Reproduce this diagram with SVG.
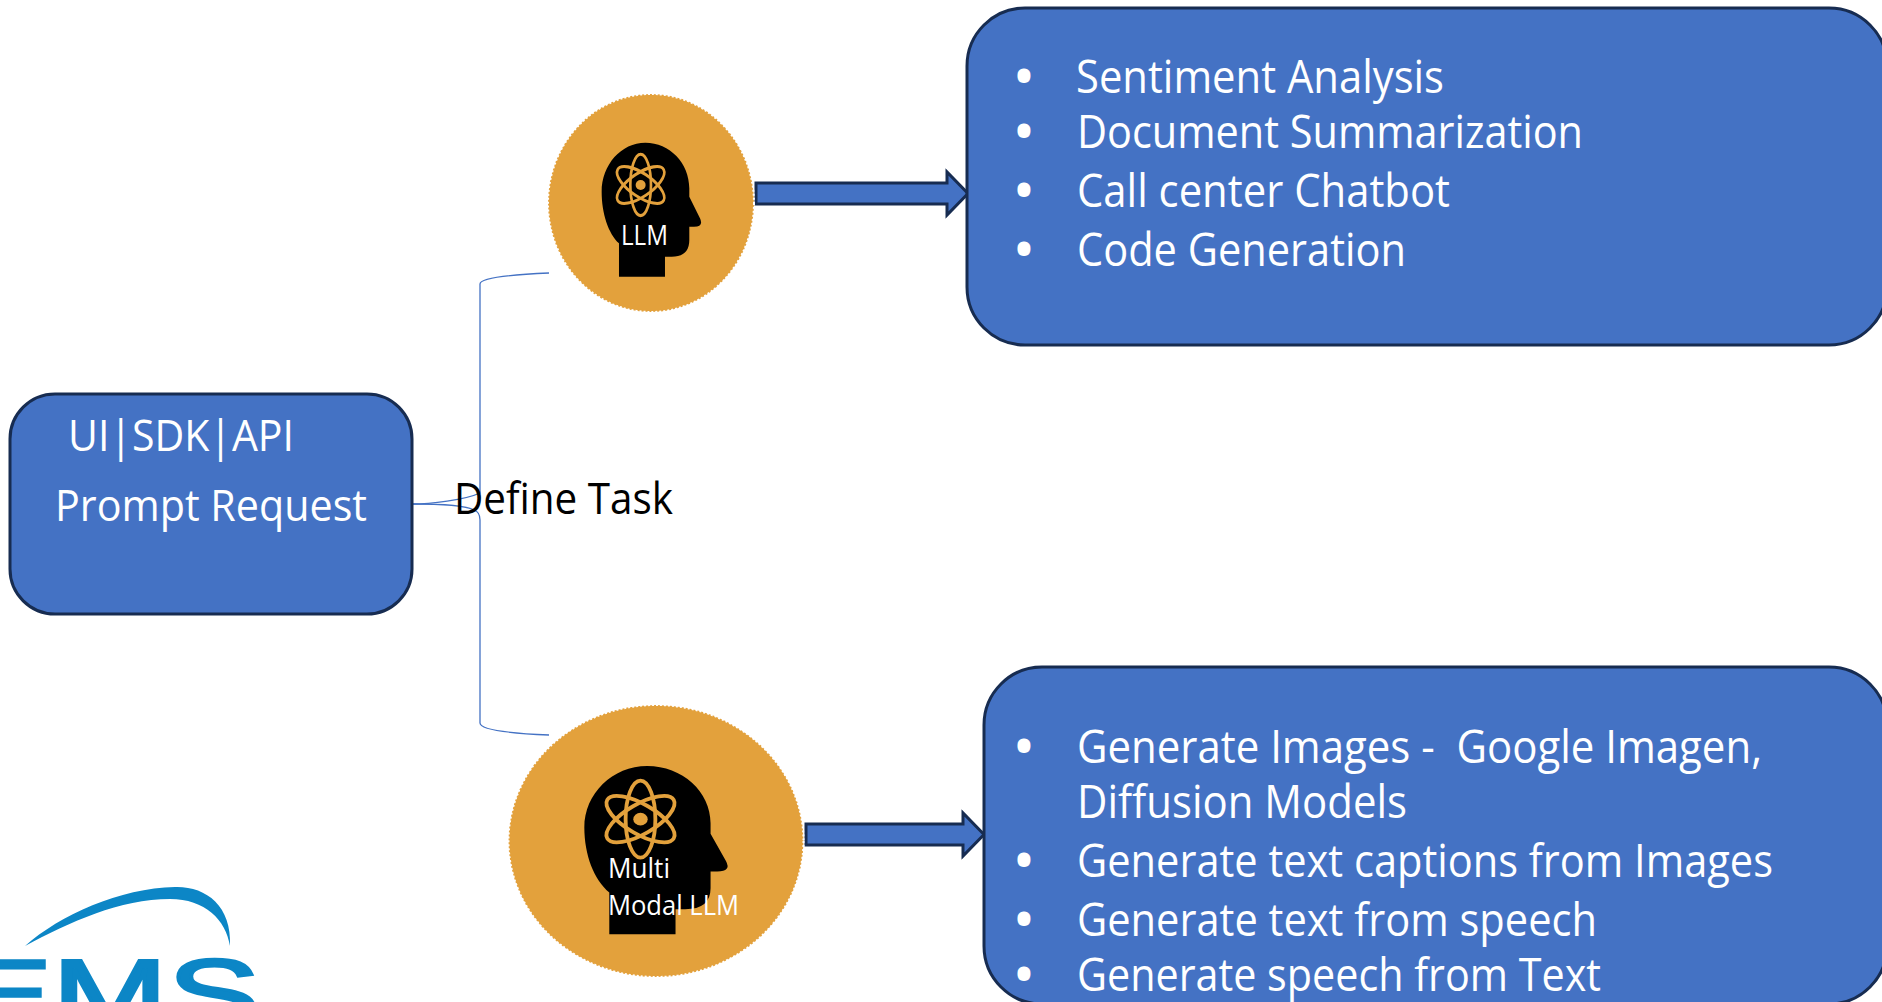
<svg xmlns="http://www.w3.org/2000/svg" width="1882" height="1002" viewBox="0 0 1882 1002">
<style>
.box{fill:#4472c4;stroke:#172c51;stroke-width:3}
.disc{fill:#e3a13c;stroke:#fff;stroke-width:2;stroke-dasharray:2 2}
.arrow{fill:#4472c4;stroke:#172c51;stroke-width:3}
.conn{fill:none;stroke:#4472c4;stroke-width:1.3}
.t{font-family:"Open Sans","Noto Sans",sans-serif;fill:#fff;font-size:46px}
.m{font-size:43px}
.b{text-anchor:middle;font-weight:700}
.s{font-size:27px}
.atom{fill:none;stroke:#e3a13c;stroke-width:8}
</style>
<defs>
<g id="head">
<path fill="#000" d="M297 620V520C265 490 245 430 245 365C245 284 304 218 376 218C449 218 508 279 508 355V380L540 445Q552 470 522 470H508V510Q508 560 455 560H435V620Z"/>
<g class="atom" transform="translate(362 345) scale(1 1.15)">
<ellipse rx="31" ry="80"/>
<ellipse rx="31" ry="80" transform="rotate(60)"/>
<ellipse rx="31" ry="80" transform="rotate(-60)"/>
</g>
<circle cx="362" cy="345" r="15" fill="#e3a13c"/>
</g>
</defs>
<g id="connectors">
<path class="conn" d="M412 504C430 504 465 500 480 493V284Q480 276 549 273"/>
<path class="conn" d="M412 504C430 504 465 505 474 510Q480 512 480 520V723Q480 732 549 735"/>
<path class="arrow" d="M756 183H947V172L968 193.500L947 215V204H756Z"/>
<path class="arrow" d="M806 824H963V813L984 834.500L963 856V845H806Z"/>
</g>
<g id="prompt-node">
<rect class="box" x="10" y="394" width="402" height="220" rx="45" ry="45"/>
<text class="t m" x="68" y="451" textLength="226" lengthAdjust="spacingAndGlyphs">UI|SDK|API</text>
<text class="t m" x="55" y="521" textLength="312" lengthAdjust="spacingAndGlyphs">Prompt Request</text>
</g>
<text id="define-task" class="t m" x="454" y="514" textLength="219" lengthAdjust="spacingAndGlyphs" style="fill:#000">Define Task</text>
<g id="llm-node">
<ellipse class="disc" cx="651" cy="203" rx="103" ry="109"/>
<use href="#head" transform="translate(520 70) scale(0.3333)"/>
<text class="t s" x="621" y="245" textLength="47" lengthAdjust="spacingAndGlyphs">LLM</text>
</g>
<g id="multimodal-node">
<ellipse class="disc" cx="656" cy="841" rx="147.500" ry="136"/>
<use href="#head" transform="matrix(0.48 0 0 0.4187 466.730 674.700)"/>
<text class="t s" x="608" y="878" textLength="62" lengthAdjust="spacingAndGlyphs">Multi</text>
<text class="t s" x="608" y="915" textLength="131" lengthAdjust="spacingAndGlyphs">Modal LLM</text>
</g>
<g id="tasks-node">
<rect class="box" x="967" y="8" width="920" height="337" rx="58" ry="58"/>
<text class="t b" x="1024" y="93">•</text>
<text class="t b" x="1024" y="148">•</text>
<text class="t b" x="1024" y="207">•</text>
<text class="t b" x="1024" y="266">•</text>
<text class="t" x="1076" y="93" textLength="368" lengthAdjust="spacingAndGlyphs">Sentiment Analysis</text>
<text class="t" x="1077" y="148" textLength="506" lengthAdjust="spacingAndGlyphs">Document Summarization</text>
<text class="t" x="1077" y="207" textLength="373" lengthAdjust="spacingAndGlyphs">Call center Chatbot</text>
<text class="t" x="1077" y="266" textLength="329" lengthAdjust="spacingAndGlyphs">Code Generation</text>
</g>
<g id="multimodal-tasks-node">
<rect class="box" x="984" y="667" width="903" height="337" rx="58" ry="58"/>
<text class="t b" x="1024" y="763">•</text>
<text class="t b" x="1024" y="877">•</text>
<text class="t b" x="1024" y="936">•</text>
<text class="t b" x="1024" y="991">•</text>
<text class="t" x="1077" y="763" textLength="685" lengthAdjust="spacingAndGlyphs" xml:space="preserve">Generate Images -  Google Imagen,</text>
<text class="t" x="1077" y="818" textLength="330" lengthAdjust="spacingAndGlyphs">Diffusion Models</text>
<text class="t" x="1077" y="877" textLength="696" lengthAdjust="spacingAndGlyphs">Generate text captions from Images</text>
<text class="t" x="1077" y="936" textLength="520" lengthAdjust="spacingAndGlyphs">Generate text from speech</text>
<text class="t" x="1077" y="991" textLength="524" lengthAdjust="spacingAndGlyphs">Generate speech from Text</text>
</g>
<g id="logo">
<path fill="#0c86c6" d="M25 946C60 915 120 888 175 887C205 886 232 905 230 946C226 920 205 899 170 899C120 899 70 922 25 946Z"/>
<text x="-40" y="1027" font-family="Liberation Sans, sans-serif" font-size="97" fill="#0c86c6" stroke="#0c86c6" stroke-width="3" textLength="300" lengthAdjust="spacingAndGlyphs">EMS</text>
</g>
</svg>
